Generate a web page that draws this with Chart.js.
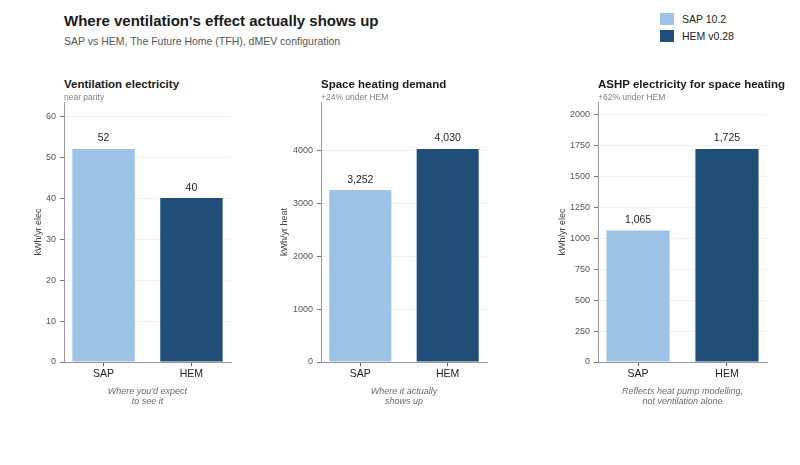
<!DOCTYPE html>
<html><head><meta charset="utf-8">
<script src="https://cdn.jsdelivr.net/npm/chart.js@4"></script>
<style>
body{margin:0;width:800px;height:465px;background:#fff;position:relative;overflow:hidden;font-family:"Liberation Sans",Arial,sans-serif;}
.abs{position:absolute;white-space:nowrap;line-height:1;}
#title{left:64px;top:13.3px;font-size:15px;font-weight:bold;color:#1a1a1a;}
#subtitle{left:64px;top:36.1px;font-size:10.5px;color:#555;}
.ptitle{top:79.3px;font-size:11.5px;font-weight:bold;color:#1a1a1a;}
.psub{top:93.3px;font-size:8.5px;color:#808080;}
.foot{top:385.6px;width:200px;text-align:center;font-size:9px;font-style:italic;color:#6a6a6a;line-height:10.5px;white-space:normal;}
.sw{position:absolute;width:14px;height:12px;}
.lg{font-size:10.5px;color:#222;}
canvas{position:absolute;top:100px;}
</style></head>
<body>
<div id="title" class="abs"></div>
<div id="subtitle" class="abs"></div>
<div class="sw" id="sw0" style="left:660px;top:13px;"></div>
<div class="abs lg" id="lg0" style="left:682px;top:13.9px;"></div>
<div class="sw" id="sw1" style="left:660px;top:30px;"></div>
<div class="abs lg" id="lg1" style="left:682px;top:30.9px;"></div>
<script>
// ---- data ----
const chartTitle = "Where ventilation's effect actually shows up";
const chartSubtitle = "SAP vs HEM, The Future Home (TFH), dMEV configuration";
const categories = ["SAP", "HEM"];
const seriesNames = ["SAP 10.2", "HEM v0.28"];
const ventilationElec = [52, 40];
const spaceHeatingDemand = [3252, 4030];
const ashpElec = [1065, 1725];
const panelTitles = ["Ventilation electricity", "Space heating demand", "ASHP electricity for space heating"];
const panelSubs = ["near parity", "+24% under HEM", "+62% under HEM"];
const yTitles = ["kWh/yr elec", "kWh/yr heat", "kWh/yr elec"];
const yStep = [10, 1000, 250];
const footnotes = [["Where you'd expect", "to see it"], ["Where it actually", "shows up"], ["Reflects heat pump modelling,", "not ventilation alone"]];
const panelValues = [ventilationElec, spaceHeatingDemand, ashpElec];

// ---- style ----
const colors = ["#9DC3E6", "#1F4E79"];
const FONT = '"Liberation Sans", Arial, sans-serif';
Chart.defaults.font.family = FONT;
const geo = [
  {left: 0, width: 232, axisW: 64, yPad: 33},
  {left: 260, width: 228, axisW: 61, yPad: 19.5},
  {left: 535, width: 233, axisW: 63, yPad: 22.5}
];

document.getElementById('title').textContent = chartTitle;
document.getElementById('subtitle').textContent = chartSubtitle;
for (let i = 0; i < 2; i++) {
  document.getElementById('sw' + i).style.background = colors[i];
  document.getElementById('lg' + i).textContent = seriesNames[i];
}

const valueLabels = {
  id: 'valueLabels',
  afterDatasetsDraw(chart) {
    const ctx = chart.ctx;
    const meta = chart.getDatasetMeta(0);
    const ds = chart.data.datasets[0];
    ctx.save();
    ctx.font = '10.5px ' + FONT;
    ctx.fillStyle = '#222';
    ctx.textAlign = 'center';
    ctx.textBaseline = 'alphabetic';
    meta.data.forEach((bar, i) => {
      ctx.fillText(ds.data[i].y.toLocaleString('en-US'), bar.x, bar.y - 7.5);
    });
    ctx.restore();
  }
};

geo.forEach((g, p) => {
  const cv = document.createElement('canvas');
  cv.width = g.width; cv.height = 320;
  cv.style.left = g.left + 'px';
  document.body.appendChild(cv);

  const axisX = g.left + g.axisW;
  const right = g.left + g.width - 1;
  const t = document.createElement('div');
  t.className = 'abs ptitle'; t.style.left = axisX + 'px'; t.textContent = panelTitles[p];
  document.body.appendChild(t);
  const s = document.createElement('div');
  s.className = 'abs psub'; s.style.left = axisX + 'px'; s.textContent = panelSubs[p];
  document.body.appendChild(s);
  const f = document.createElement('div');
  f.className = 'abs foot'; f.style.left = ((axisX + right) / 2 - 100) + 'px';
  f.innerHTML = footnotes[p].join('<br>');
  document.body.appendChild(f);

  const vals = panelValues[p];
  new Chart(cv, {
    type: 'bar',
    data: {
      datasets: [{
        data: categories.map((c, i) => ({x: i, y: vals[i]})),
        backgroundColor: colors,
        borderWidth: 0,
        barPercentage: 0.71,
        categoryPercentage: 1
      }]
    },
    options: {
      responsive: false, animation: false, devicePixelRatio: 1,
      layout: {padding: {top: 2, right: 1, left: 0, bottom: 0}},
      plugins: {legend: {display: false}, tooltip: {enabled: false}},
      scales: {
        x: {
          type: 'linear', min: -0.45, max: 1.45, offset: false,
          afterFit(sc) { sc.height = 58; sc.paddingLeft = 0; sc.paddingRight = 0; },
          afterBuildTicks(sc) { sc.ticks = categories.map((c, i) => ({value: i})); },
          grid: {offset: false, drawOnChartArea: false, drawTicks: true, tickLength: 4, tickColor: '#555'},
          border: {color: '#999', width: 1},
          ticks: {padding: 2, color: '#222', font: {size: 10.5},
            callback: v => categories[v] !== undefined ? categories[v] : ''}
        },
        y: {
          min: 0, max: Math.max(...vals) * 1.22,
          afterFit(sc) { sc.width = g.axisW; sc.paddingTop = 0; sc.paddingBottom = 0; },
          afterBuildTicks(sc) {
            const tk = [];
            for (let v = 0; v <= sc.max + 1e-9; v += yStep[p]) tk.push({value: v});
            sc.ticks = tk;
          },
          grid: {color: '#eeeeee', lineWidth: 0.8, tickLength: 4, tickColor: '#555'},
          border: {color: '#999', width: 1},
          ticks: {padding: 4, color: '#555', font: {size: 9},
            callback: v => String(v)},
          title: {display: true, text: yTitles[p], color: '#444', font: {size: 9}, padding: {top: g.yPad, bottom: 0}}
        }
      }
    },
    plugins: [valueLabels]
  });
});
</script>
</body></html>
